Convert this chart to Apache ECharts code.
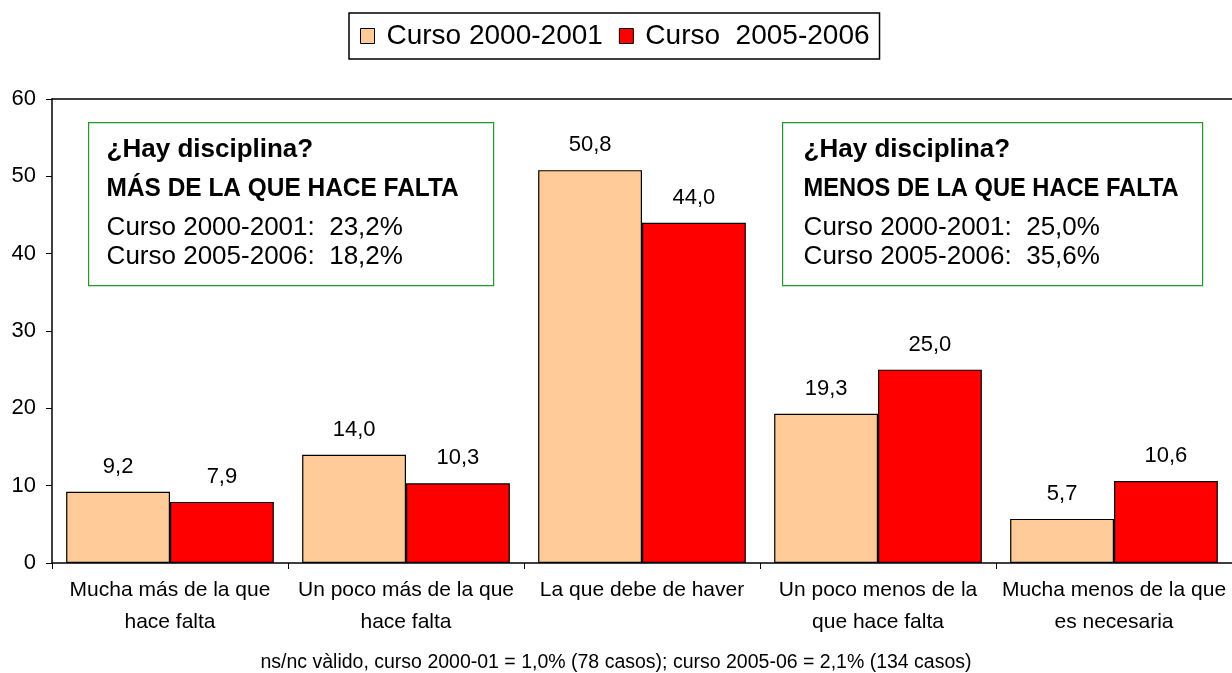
<!DOCTYPE html>
<html><head><meta charset="utf-8">
<script src="https://cdn.jsdelivr.net/npm/echarts@6/dist/echarts.min.js"></script>
<style>html,body{margin:0;padding:0;background:#fff}#c{width:1232px;height:673px}</style>
</head><body><div id="c"></div>
<script>
const categories = ["Mucha más de la que\nhace falta", "Un poco más de la que\nhace falta", "La que debe de haver", "Un poco menos de la\nque hace falta", "Mucha menos de la que\nes necesaria"];
const seriesNames = ["Curso 2000-2001", "Curso  2005-2006"];
const values2000 = [9.2, 14.0, 50.8, 19.3, 5.7];
const values2005 = [7.9, 10.3, 44.0, 25.0, 10.6];
const yTicks = [0, 10, 20, 30, 40, 50, 60];
const boxLeft = ["¿Hay disciplina?", "MÁS DE LA QUE HACE FALTA", "Curso 2000-2001:  23,2%", "Curso 2005-2006:  18,2%"];
const boxRight = ["¿Hay disciplina?", "MENOS DE LA QUE HACE FALTA", "Curso 2000-2001:  25,0%", "Curso 2005-2006:  35,6%"];
const footNote = "ns/nc vàlido, curso 2000-01 = 1,0% (78 casos); curso 2005-06 = 2,1% (134 casos)";

const FONT = '"Liberation Sans", Arial, sans-serif';
const fmt = v => v.toFixed(1).replace('.', ',');

function boxGraphic(x, y, w, h, tx, lines, sx) {
  const t = (yy, txt, bold, scale) => ({
    type: 'text', x: tx, y: yy, scaleX: scale || 1,
    style: {text: txt, font: (bold ? 'bold ' : '') + '26px ' + FONT, fill: '#000', textVerticalAlign: 'middle', textAlign: 'left'}
  });
  return {
    type: 'group', left: x, top: y,
    children: [
      {type: 'rect', shape: {x: 0, y: 0, width: w, height: h}, style: {fill: '#fff', stroke: '#22992a', lineWidth: 1.2}},
      t(27, lines[0], true),
      t(66, lines[1], true, sx),
      t(105, lines[2], false),
      t(134, lines[3], false)
    ]
  };
}

const chart = echarts.init(document.getElementById('c'), null, {renderer: 'canvas'});
chart.setOption({
  animation: false,
  backgroundColor: '#fff',
  textStyle: {fontFamily: FONT},
  legend: {
    data: seriesNames,
    top: 13, left: 349,
    icon: 'rect', itemWidth: 14, itemHeight: 15, itemGap: 16,
    itemStyle: {borderColor: '#000', borderWidth: 1},
    borderColor: '#000', borderWidth: 1.5, padding: [9, 10, 9, 11],
    textStyle: {fontSize: 28, lineHeight: 28, color: '#000', fontFamily: FONT, padding: [0, 0, 0, 7]}
  },
  grid: {left: 52, right: -3, top: 99, bottom: 110, containLabel: false},
  xAxis: [{
    type: 'category', data: categories,
    axisLine: {lineStyle: {color: '#000', width: 1.5}},
    axisTick: {show: true, length: 6, lineStyle: {color: '#000'}},
    axisLabel: {interval: 0, color: '#000', fontSize: 21, lineHeight: 32, margin: 11, fontFamily: FONT}
  }, {
    type: 'category', data: categories, position: 'top',
    axisLine: {show: true, lineStyle: {color: '#000', width: 1.5}},
    axisTick: {show: false}, axisLabel: {show: false}
  }],
  yAxis: {
    type: 'value', min: 0, max: 60, interval: 10,
    axisLine: {show: true, lineStyle: {color: '#000', width: 1.5}},
    axisTick: {show: true, inside: false, length: 6, lineStyle: {color: '#000'}},
    splitLine: {show: false},
    axisLabel: {color: '#000', fontSize: 22, margin: 16, fontFamily: FONT,
      formatter: v => yTicks.includes(v) ? String(v) : ''}
  },
  series: [{
    name: seriesNames[0], type: 'bar', data: values2000,
    barGap: '0%', barCategoryGap: '12%',
    itemStyle: {color: '#FFCC99', borderColor: '#000', borderWidth: 1.2},
    label: {show: true, position: 'top', distance: 14, color: '#000', fontSize: 22, fontFamily: FONT, formatter: p => fmt(p.value)}
  }, {
    name: seriesNames[1], type: 'bar', data: values2005,
    itemStyle: {color: '#FF0000', borderColor: '#000', borderWidth: 1.2},
    label: {show: true, position: 'top', distance: 14, color: '#000', fontSize: 22, fontFamily: FONT, formatter: p => fmt(p.value)}
  }],
  graphic: [
    boxGraphic(88, 122, 405, 163, 18, boxLeft, 0.94),
    boxGraphic(782, 122, 420, 163, 21, boxRight, 0.91),
    {type: 'text', x: 616, y: 663, style: {text: footNote, font: '19.5px ' + FONT, fill: '#000', textAlign: 'center', textVerticalAlign: 'middle'}}
  ]
});
</script>
</body></html>
